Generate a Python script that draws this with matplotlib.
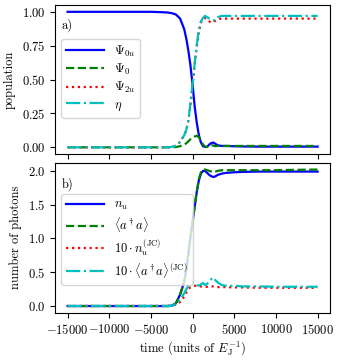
import numpy as np
import matplotlib
matplotlib.use("Agg")
import matplotlib.pyplot as plt

plt.rcParams['font.family'] = 'serif'
plt.rcParams['font.serif'] = ['cmr10']
plt.rcParams['mathtext.fontset'] = 'cm'
plt.rcParams['axes.formatter.use_mathtext'] = True
plt.rcParams['font.size'] = 9

# time grid (units of 1/E_J)
t = [-15000, -10000, -5000, -4000, -3000, -2500, -2000, -1500, -1000, -750,
     -500, -250, 0, 250, 500, 750, 1000, 1250, 1500, 1750, 2000, 2250, 2500,
     2750, 3000, 3500, 4000, 5000, 6000, 8000, 10000, 12000, 15000]

# panel a) populations
psi0u = [1.0, 1.0, 1.0, 0.998, 0.995, 0.99, 0.98, 0.95, 0.87, 0.80,
         0.71, 0.60, 0.46, 0.30, 0.18, 0.09, 0.035, 0.008, 0.002, 0.005, 0.02, 0.032, 0.035,
         0.025, 0.015, 0.01, 0.01, 0.008, 0.006, 0.005, 0.005, 0.005, 0.005]
psi0 = [0.0, 0.0, 0.0, 0.0, 0.0, 0.001, 0.002, 0.008, 0.02, 0.03,
        0.045, 0.06, 0.07, 0.08, 0.085, 0.075, 0.05, 0.02, 0.005, 0.002, 0.008, 0.015, 0.012,
        0.008, 0.01, 0.01, 0.01, 0.01, 0.01, 0.01, 0.01, 0.01, 0.01]
psi2u = [0.0, 0.0, 0.0, 0.0, 0.0, 0.003, 0.012, 0.04, 0.09, 0.13,
         0.2, 0.32, 0.46, 0.61, 0.74, 0.85, 0.92, 0.945, 0.955, 0.945, 0.93, 0.92, 0.925,
         0.935, 0.945, 0.95, 0.95, 0.95, 0.95, 0.95, 0.95, 0.95, 0.95]
eta = [0.0, 0.0, 0.0, 0.0, 0.0, 0.003, 0.012, 0.04, 0.09, 0.13,
       0.2, 0.33, 0.47, 0.62, 0.76, 0.87, 0.93, 0.955, 0.97, 0.96, 0.95, 0.94, 0.935,
       0.945, 0.96, 0.97, 0.97, 0.97, 0.97, 0.97, 0.97, 0.97, 0.97]

# panel b) photon numbers
n_u = [0.0, 0.0, 0.0, 0.0, 0.0, 0.005, 0.04, 0.17, 0.36, 0.55,
       0.78, 1.03, 1.25, 1.47, 1.69, 1.86, 1.96, 2.0, 2.0, 1.97, 1.94, 1.92, 1.91,
       1.92, 1.94, 1.96, 1.97, 1.98, 1.985, 1.99, 1.99, 1.99, 1.99]
ada = [0.0, 0.0, 0.0, 0.0, 0.0, 0.005, 0.04, 0.17, 0.36, 0.55,
       0.78, 1.03, 1.25, 1.48, 1.70, 1.88, 1.98, 2.02, 2.02, 2.01, 2.0, 1.99, 1.98,
       1.99, 2.0, 2.01, 2.01, 2.01, 2.01, 2.01, 2.01, 2.015, 2.02]
n_u_jc = [0.0, 0.0, 0.0, 0.0, 0.0, 0.003, 0.02, 0.06, 0.14, 0.2,
          0.25, 0.28, 0.29, 0.3, 0.3, 0.295, 0.29, 0.285, 0.28, 0.285, 0.29, 0.29, 0.29,
          0.285, 0.28, 0.28, 0.28, 0.275, 0.275, 0.27, 0.27, 0.27, 0.27]
ada_jc = [0.0, 0.0, 0.0, 0.0, 0.0, 0.003, 0.03, 0.09, 0.19, 0.25,
          0.3, 0.33, 0.35, 0.34, 0.31, 0.3, 0.32, 0.34, 0.31, 0.33, 0.36, 0.4, 0.42,
          0.38, 0.35, 0.31, 0.3, 0.3, 0.29, 0.29, 0.285, 0.285, 0.285]

fig = plt.figure(figsize=(3.4, 3.6), dpi=100)
axa = fig.add_axes([0.162, 0.572, 0.809, 0.414])
axb = fig.add_axes([0.162, 0.131, 0.809, 0.417], sharex=axa)

lw = 1.6
axa.plot(t, psi0u, 'b-', lw=lw, label=r'$\Psi_{0u}$')
axa.plot(t, psi0, 'g--', lw=lw, label=r'$\Psi_0$')
axa.plot(t, psi2u, 'r:', lw=lw, label=r'$\Psi_{2u}$')
axa.plot(t, eta, 'c-.', lw=lw, label=r'$\eta$')
axa.set_ylabel('population')
axa.set_yticks([0.0, 0.25, 0.5, 0.75, 1.0])
axa.text(0.025, 0.865, 'a)', transform=axa.transAxes, va='center', ha='left')
axa.legend(loc='center left', handlelength=3.0, labelspacing=0.25,
           bbox_to_anchor=(0, 0.51))
plt.setp(axa.get_xticklabels(), visible=False)

axb.plot(t, n_u, 'b-', lw=lw, label=r'$n_u$')
axb.plot(t, ada, 'g--', lw=lw, label=r'$\langle a^\dagger a\rangle$')
axb.plot(t, n_u_jc, 'r:', lw=lw, label=r'$10\cdot n_u^{(\mathrm{JC})}$')
axb.plot(t, ada_jc, 'c-.', lw=lw, label=r'$10\cdot\langle a^\dagger a\rangle^{(\mathrm{JC})}$')
axb.set_ylabel('number of photons')
axb.set_xlabel(r'time (units of $E_\mathrm{J}^{-1}$)', labelpad=2)
axb.set_xticks([-15000, -10000, -5000, 0, 5000, 10000, 15000])
axb.set_yticks([0.0, 0.5, 1.0, 1.5, 2.0])
axb.text(0.025, 0.853, 'b)', transform=axb.transAxes, va='center', ha='left')
axb.legend(loc='center left', handlelength=3.0, labelspacing=0.25,
           bbox_to_anchor=(0, 0.49))

fig.savefig('out.png', dpi=100)
